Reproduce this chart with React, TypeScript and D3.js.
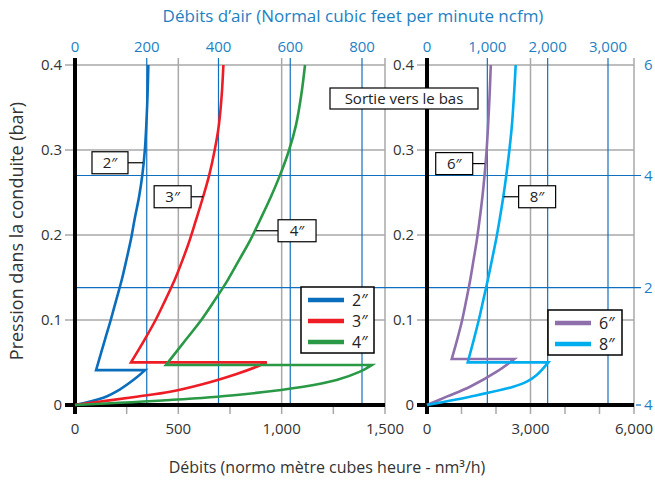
import { useEffect, useRef } from 'react';
import * as d3 from 'd3';

// axis ticks
const barTicks = [0, 0.1, 0.2, 0.3, 0.4];
const leftFlowTicks = [0, 500, 1000, 1500];
const leftFlowMinor = [250, 750, 1250];
const rightFlowTicks = [0, 3000, 6000];
const rightFlowMinor = [1000, 2000, 4000, 5000];
const leftCfmTicks = [0, 200, 400, 600, 800];
const rightCfmTicks = [0, 1000, 2000, 3000];
const psiBars = [0.4, 0.27, 0.138, 0];
const psiLabels = ['6', '4', '2', '4'];
const psiLines = [0.27, 0.138];

// curves: [nm3/h, bar]  low = branch from origin, high = branch up to 0.4 bar
const low2 = [[0, 0], [137, 0.0086], [218, 0.0185], [299, 0.0326], [339, 0.041]];
const high2 = [[102, 0.041], [145, 0.077], [173, 0.1], [200, 0.124], [226, 0.147], [249, 0.171], [270, 0.194], [288, 0.218], [310, 0.245], [326, 0.271], [338, 0.3], [345, 0.329], [351, 0.365], [355, 0.4]];
const low3 = [[0, 0], [298, 0.0098], [460, 0.0156], [621, 0.0247], [782, 0.0365], [879, 0.045], [928, 0.0502]];
const high3 = [[271, 0.0502], [337, 0.077], [390, 0.1], [438, 0.124], [482, 0.147], [521, 0.171], [555, 0.194], [586, 0.218], [620, 0.245], [650, 0.271], [676, 0.3], [696, 0.329], [710, 0.365], [718, 0.4]];
const low4 = [[0, 0], [460, 0.0059], [782, 0.0118], [1105, 0.0215], [1266, 0.0294], [1379, 0.0392], [1436, 0.047]];
const high4 = [[440, 0.047], [537, 0.077], [611, 0.1], [678, 0.124], [739, 0.147], [795, 0.171], [848, 0.194], [896, 0.218], [948, 0.245], [993, 0.271], [1036, 0.3], [1069, 0.329], [1095, 0.365], [1113, 0.4]];
const low6 = [[0, 0], [571, 0.0098], [1246, 0.0215], [2020, 0.0392], [2531, 0.0541]];
const high6 = [[716, 0.0541], [875, 0.077], [1020, 0.1], [1142, 0.124], [1252, 0.147], [1351, 0.171], [1444, 0.194], [1525, 0.218], [1606, 0.245], [1670, 0.271], [1728, 0.3], [1771, 0.329], [1815, 0.365], [1849, 0.4]];
const low8 = [[0, 0], [1246, 0.0098], [2501, 0.0215], [2890, 0.0274], [3180, 0.0353], [3516, 0.0502]];
const high8 = [[1180, 0.0502], [1357, 0.077], [1501, 0.1], [1635, 0.124], [1762, 0.147], [1884, 0.171], [2000, 0.194], [2104, 0.218], [2212, 0.245], [2301, 0.271], [2388, 0.3], [2461, 0.329], [2522, 0.365], [2571, 0.4]];

const leftNames = ['2″', '3″', '4″'];
const leftColors = ['#0a6ebd', '#ee1d25', '#2a9946'];
const rightNames = ['6″', '8″'];
const rightColors = ['#8e6fac', '#00adef'];

const W = 655;
const H = 482;
const FONT = '"Open Sans", sans-serif';
const TXT = '#333';
const BLUE_TXT = '#1f7fc4';
const GRID = '#a8a8a8';
const BLUE = '#1170bd';

const App = () => {
    const ref = useRef(null);

    useEffect(() => {
        const svg = d3.select(ref.current);
        svg.selectAll('*').remove();

        const y = d3.scaleLinear().domain([0, 0.4]).range([405, 65]);
        const xL = d3.scaleLinear().domain([0, 1500]).range([75, 385]);
        const xR = d3.scaleLinear().domain([0, 6000]).range([427, 634]);
        const xLc = d3.scaleLinear().domain([0, 800]).range([75, 362]);
        const xRc = d3.scaleLinear().domain([0, 3000]).range([427, 608]);
        const fmt = d3.format(',');
        const top = 58, bot = 414;

        const g = svg.append('g').style('font-family', FONT);

        const panels = [
            { x: xL, xc: xLc, ticks: leftFlowTicks, minor: leftFlowMinor, cfm: leftCfmTicks, x0: 65 },
            { x: xR, xc: xRc, ticks: rightFlowTicks, minor: rightFlowMinor, cfm: rightCfmTicks, x0: 417 },
        ];

        panels.forEach(p => {
            const b = p.x.range()[1];
            // gray horizontal grid
            g.append('g').selectAll('line').data(barTicks).join('line')
                .attr('x1', p.x0).attr('x2', b)
                .attr('y1', d => y(d)).attr('y2', d => y(d))
                .attr('stroke', GRID).attr('stroke-width', 1.5);
            // gray vertical grid
            g.append('g').selectAll('line').data(p.ticks.slice(1)).join('line')
                .attr('x1', d => p.x(d)).attr('x2', d => p.x(d))
                .attr('y1', top).attr('y2', bot)
                .attr('stroke', GRID).attr('stroke-width', 1.5);
            // minor ticks
            g.append('g').selectAll('line').data(p.minor).join('line')
                .attr('x1', d => p.x(d)).attr('x2', d => p.x(d))
                .attr('y1', y(0)).attr('y2', bot)
                .attr('stroke', GRID).attr('stroke-width', 1.5);
            // blue verticals (ncfm)
            g.append('g').selectAll('line').data(p.cfm.slice(1)).join('line')
                .attr('x1', d => p.xc(d)).attr('x2', d => p.xc(d))
                .attr('y1', top).attr('y2', y(0))
                .attr('stroke', BLUE).attr('stroke-width', 1.2);
            // top labels
            g.append('g').selectAll('text').data(p.cfm).join('text')
                .attr('x', d => p.xc(d)).attr('y', 52)
                .attr('text-anchor', 'middle')
                .attr('fill', BLUE_TXT).style('font-size', '15px')
                .text(d => fmt(d));
            // bottom labels
            g.append('g').selectAll('text').data(p.ticks).join('text')
                .attr('x', d => p.x(d)).attr('y', 434)
                .attr('text-anchor', 'middle')
                .attr('fill', TXT).style('font-size', '15px')
                .text(d => fmt(d));
            // left labels
            g.append('g').selectAll('text').data(barTicks).join('text')
                .attr('x', p.x0 - 3).attr('y', d => y(d) + 5)
                .attr('text-anchor', 'end')
                .attr('fill', TXT).style('font-size', '15px')
                .text(d => d === 0 ? '0' : d3.format('.1f')(d));
        });

        // blue horizontals (psi)
        g.append('g').selectAll('line').data(psiLines).join('line')
            .attr('x1', xL(0)).attr('x2', 641)
            .attr('y1', d => y(d)).attr('y2', d => y(d))
            .attr('stroke', BLUE).attr('stroke-width', 1.2);
        g.append('line').attr('x1', 636).attr('x2', 641)
            .attr('y1', y(0)).attr('y2', y(0))
            .attr('stroke', BLUE).attr('stroke-width', 1.2);
        g.append('g').selectAll('text').data(psiBars).join('text')
            .attr('x', 644).attr('y', d => y(d) + 5)
            .attr('fill', BLUE_TXT).style('font-size', '15px')
            .text((d, i) => psiLabels[i]);

        // black axes
        panels.forEach(p => {
            const [a, b] = p.x.range();
            g.append('line').attr('x1', a).attr('x2', a).attr('y1', top).attr('y2', bot)
                .attr('stroke', '#000').attr('stroke-width', 4);
            g.append('line').attr('x1', p.x0).attr('x2', b).attr('y1', y(0)).attr('y2', y(0))
                .attr('stroke', '#000').attr('stroke-width', 4);
        });

        // curves: rising branch, horizontal drop-back, then upper branch
        const drawCurve = (low, high, x, color) => {
            const line = d3.line().x(d => x(d[0])).y(d => y(d[1])).curve(d3.curveCatmullRom.alpha(0.5));
            const pathD = line(low) + line(high).replace(/^M/, 'L');
            g.append('path').attr('d', pathD)
                .attr('fill', 'none').attr('stroke', color)
                .attr('stroke-width', 2.6).attr('stroke-linejoin', 'miter');
        };
        drawCurve(low2, high2, xL, leftColors[0]);
        drawCurve(low3, high3, xL, leftColors[1]);
        drawCurve(low4, high4, xL, leftColors[2]);
        drawCurve(low6, high6, xR, rightColors[0]);
        drawCurve(low8, high8, xR, rightColors[1]);

        // callout labels
        const callout = (text, x, flow, bar, side, len, w) => {
            const cx = x(flow), cy = y(bar);
            const ex = side < 0 ? cx - len : cx + len;
            const bx = side < 0 ? ex - w : ex;
            g.append('line').attr('x1', cx).attr('x2', ex).attr('y1', cy).attr('y2', cy)
                .attr('stroke', '#000').attr('stroke-width', 1.2);
            g.append('rect').attr('x', bx).attr('y', cy - 11).attr('width', w).attr('height', 22)
                .attr('fill', '#fff').attr('stroke', '#000').attr('stroke-width', 1.2);
            g.append('text').attr('x', bx + w / 2).attr('y', cy + 5.5)
                .attr('text-anchor', 'middle').attr('fill', '#222').style('font-size', '15px')
                .text(text);
        };
        callout(leftNames[0], xL, 329, 0.285, -1, 15, 36);
        callout(leftNames[1], xL, 620, 0.245, -1, 12, 37);
        callout(leftNames[2], xL, 876, 0.205, 1, 22, 38);
        callout(rightNames[0], xR, 1673, 0.284, -1, 12, 37);
        callout(rightNames[1], xR, 2221, 0.245, 1, 15, 37);

        // "Sortie vers le bas"
        g.append('rect').attr('x', 330).attr('y', 88).attr('width', 148).attr('height', 21)
            .attr('fill', '#fff').attr('stroke', '#000').attr('stroke-width', 1.2);
        g.append('text').attr('x', 404).attr('y', 104)
            .attr('text-anchor', 'middle').attr('fill', '#222').style('font-size', '15px')
            .text('Sortie vers le bas');

        // legends
        const legend = (names, colors, bx, by, bw) => {
            const bh = names.length * 21 + 3;
            const lg = g.append('g').attr('transform', `translate(${bx},${by})`);
            lg.append('rect').attr('width', bw).attr('height', bh)
                .attr('fill', '#fff').attr('stroke', '#000').attr('stroke-width', 1.5);
            names.forEach((n, i) => {
                const yy = 13 + i * 21;
                lg.append('line').attr('x1', 7).attr('x2', 43).attr('y1', yy).attr('y2', yy)
                    .attr('stroke', colors[i]).attr('stroke-width', 4.5);
                lg.append('text').attr('x', 51).attr('y', yy + 6)
                    .attr('fill', '#222').style('font-size', '16px').text(n);
            });
        };
        legend(leftNames, leftColors, 301, 287, 73);
        legend(rightNames, rightColors, 548, 310, 74);

        // titles
        g.append('text').attr('x', 353).attr('y', 22).attr('text-anchor', 'middle')
            .attr('fill', BLUE_TXT).style('font-size', '17px')
            .text('Débits d’air (Normal cubic feet per minute ncfm)');
        g.append('text').attr('x', 327).attr('y', 473).attr('text-anchor', 'middle')
            .attr('fill', TXT).style('font-size', '16px')
            .text('Débits (normo mètre cubes heure - nm³/h)');
        g.append('text').attr('transform', 'translate(23,231) rotate(-90)').attr('text-anchor', 'middle')
            .attr('fill', TXT).style('font-size', '18px')
            .text('Pression dans la conduite (bar)');
    }, []);

    return (
        <svg ref={ref} width={W} height={H}
            style={{ position: 'absolute', left: 0, top: 0, background: '#fff' }} />
    );
};

export default App;
